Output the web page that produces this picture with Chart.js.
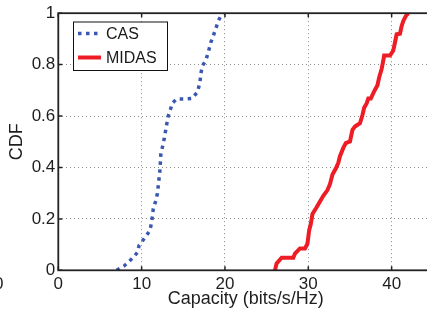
<!DOCTYPE html>
<html>
<head>
<meta charset="utf-8">
<script src="https://cdn.jsdelivr.net/npm/chart.js@4/dist/chart.umd.min.js"></script>
<style>
  html, body { margin: 0; padding: 0; background: #fff; overflow: hidden; width: 427px; height: 310px; }
  #wrap { position: relative; width: 440px; height: 310px; }
  #frag { position: absolute; left: -6px; top: 274px; font: 17px "Liberation Sans", Arial, sans-serif; color: #222; }
</style>
</head>
<body>
<div id="wrap">
  <canvas id="c" width="440" height="310"></canvas>
  <span id="frag">0</span>
</div>
<script>
// ---- data ----
const seriesNames = ["CAS", "MIDAS"];
const casX = [7.0, 7.9, 9.0, 9.5, 9.7, 10.4, 11.0, 11.2, 11.4, 11.7, 11.9, 12.0, 12.1, 12.2, 12.3, 12.5, 12.7, 13.0, 13.2, 13.5, 13.7, 14.2, 15.2, 16.0, 16.7, 17.0, 17.1, 17.3, 17.7, 18.0, 18.3, 18.6, 18.9, 19.2, 19.5, 19.9];
const casY = [0, 0.017, 0.05, 0.07, 0.097, 0.127, 0.155, 0.187, 0.24, 0.27, 0.30, 0.33, 0.36, 0.39, 0.45, 0.48, 0.51, 0.566, 0.60, 0.63, 0.651, 0.666, 0.666, 0.668, 0.693, 0.732, 0.764, 0.796, 0.816, 0.848, 0.886, 0.912, 0.94, 0.97, 0.989, 1.0];
const midasX = [26.0, 26.2, 26.8, 28.2, 28.4, 29.0, 29.6, 29.9, 30.1, 30.3, 30.5, 31.0, 31.4, 31.8, 32.3, 32.6, 32.9, 33.3, 33.6, 33.8, 34.2, 34.5, 35.0, 35.3, 35.6, 36.2, 36.5, 36.7, 37.0, 37.2, 37.5, 37.9, 38.3, 38.5, 38.8, 39.0, 39.1, 39.8, 40.2, 40.4, 40.6, 41.0, 41.2, 41.4, 41.7, 42.0];
const midasY = [0, 0.027, 0.049, 0.049, 0.065, 0.085, 0.085, 0.104, 0.155, 0.18, 0.219, 0.245, 0.268, 0.29, 0.312, 0.335, 0.373, 0.396, 0.418, 0.444, 0.476, 0.495, 0.501, 0.546, 0.559, 0.572, 0.604, 0.632, 0.649, 0.668, 0.668, 0.696, 0.72, 0.75, 0.783, 0.816, 0.835, 0.835, 0.855, 0.886, 0.918, 0.92, 0.95, 0.97, 0.989, 1.0];
const xTicks = [0, 10, 20, 30, 40];
const yTicks = [0, 0.2, 0.4, 0.6, 0.8, 1];
const xRange = [0, 45];
const yRange = [0, 1];
const xTitle = "Capacity (bits/s/Hz)";
const yTitle = "CDF";

const FONT = '"Liberation Sans", Arial, Helvetica, sans-serif';
const toPts = (xs, ys) => xs.map((x, i) => ({ x: x, y: ys[i] }));
const fmt = v => String(Math.round(v * 10) / 10);

const boxPlugin = {
  id: 'box',
  afterDatasetsDraw(chart) {
    const { ctx, chartArea: a, scales } = chart;
    ctx.save();
    ctx.strokeStyle = '#222';
    ctx.lineWidth = 1.5;
    // inward ticks
    const tl = 4;
    ctx.beginPath();
    xTicks.forEach(v => {
      const px = scales.x.getPixelForValue(v);
      ctx.moveTo(px, a.bottom); ctx.lineTo(px, a.bottom - tl);
      ctx.moveTo(px, a.top); ctx.lineTo(px, a.top + tl);
    });
    yTicks.forEach(v => {
      const py = scales.y.getPixelForValue(v);
      ctx.moveTo(a.left, py); ctx.lineTo(a.left + tl, py);
      ctx.moveTo(a.right, py); ctx.lineTo(a.right - tl, py);
    });
    ctx.stroke();
    ctx.lineWidth = 1.8;
    ctx.strokeRect(a.left, a.top, a.right - a.left, a.bottom - a.top);
    // legend
    const lx = 73.5, ly = 22, lw = 94, lh = 48.5;
    ctx.fillStyle = '#fff';
    ctx.fillRect(lx, ly, lw, lh);
    ctx.lineWidth = 1;
    ctx.strokeStyle = '#111';
    ctx.strokeRect(lx, ly, lw, lh);
    const rows = [33.5, 57.5];
    chart.data.datasets.forEach((ds, i) => {
      const y = rows[i];
      ctx.save();
      ctx.strokeStyle = ds.borderColor;
      ctx.lineWidth = ds.borderWidth;
      ctx.setLineDash(ds.borderDash || []);
      ctx.lineCap = 'butt';
      ctx.beginPath();
      ctx.moveTo(78, y); ctx.lineTo(101, y);
      ctx.stroke();
      ctx.restore();
      ctx.fillStyle = '#1a1a1a';
      ctx.font = '16px ' + FONT;
      ctx.textBaseline = 'middle';
      ctx.textAlign = 'left';
      ctx.fillText(ds.label, 106, y + 1);
    });
    ctx.restore();
  }
};

new Chart(document.getElementById('c'), {
  type: 'line',
  data: {
    datasets: [
      { label: seriesNames[0], data: toPts(casX, casY), borderColor: '#3a58b2', borderWidth: 3.5, borderDash: [3.5, 4.5], pointRadius: 0, fill: false, tension: 0 },
      { label: seriesNames[1], data: toPts(midasX, midasY), borderColor: '#ee1c25', borderWidth: 4, pointRadius: 0, fill: false, tension: 0 }
    ]
  },
  options: {
    responsive: false,
    animation: false,
    devicePixelRatio: 1,
    layout: { padding: { top: 10.3, right: 6.7, left: 0, bottom: 0 } },
    plugins: { legend: { display: false }, tooltip: { enabled: false } },
    scales: {
      x: {
        type: 'linear', min: xRange[0], max: xRange[1],
        afterFit(s) { s.height = 39.7; },
        afterBuildTicks(s) { s.ticks = xTicks.map(v => ({ value: v })); },
        ticks: { font: { family: FONT, size: 17 }, color: '#1e1e1e', padding: 3.5, maxRotation: 0, includeBounds: false, callback: fmt },
        grid: { color: '#8c8c8c', lineWidth: 1, drawTicks: false },
        border: { display: false, dash: [1, 3] },
        title: { display: true, text: xTitle, font: { family: FONT, size: 18 }, color: '#1e1e1e', padding: { top: 1, bottom: 0 } }
      },
      y: {
        type: 'linear', min: yRange[0], max: yRange[1],
        afterFit(s) { s.width = 58.3; },
        afterBuildTicks(s) { s.ticks = yTicks.map(v => ({ value: v })); },
        ticks: { font: { family: FONT, size: 17 }, color: '#1e1e1e', padding: 3, callback: fmt },
        grid: { color: '#8c8c8c', lineWidth: 1, drawTicks: false },
        border: { display: false, dash: [1, 3] },
        title: { display: true, text: yTitle, font: { family: FONT, size: 18 }, color: '#1e1e1e', padding: { top: 6, bottom: 0 } }
      }
    }
  },
  plugins: [boxPlugin]
});
</script>
</body>
</html>
